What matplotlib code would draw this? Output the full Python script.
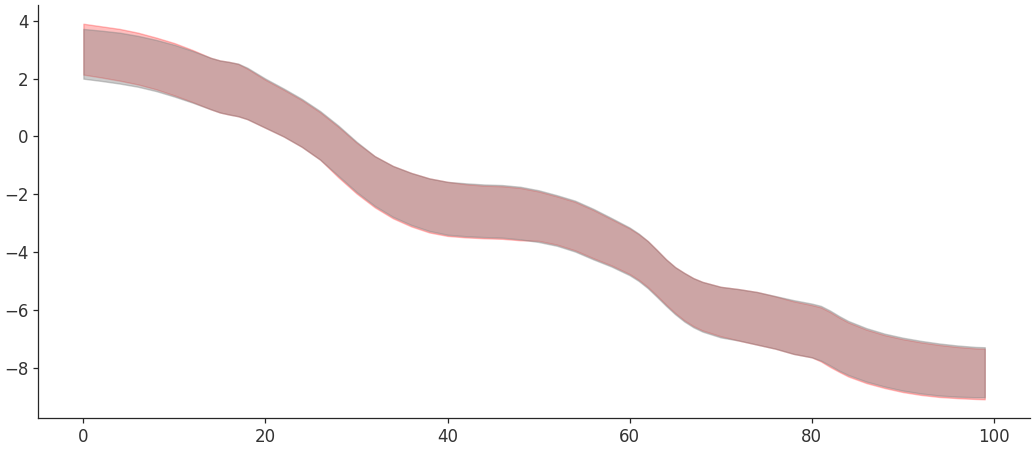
import numpy as np
import matplotlib
matplotlib.use('Agg')
import matplotlib.pyplot as plt
import seaborn as sns

# x positions of the read-off points
x = [0, 2, 4, 6, 8, 10, 12, 14, 15, 16, 17, 18, 20, 22, 24, 26, 28, 30, 32,
     34, 36, 38, 40, 42, 44, 46, 48, 50, 52, 54, 56, 58, 60, 61, 62, 63, 64,
     65, 66, 67, 68, 70, 72, 74, 76, 78, 80, 81, 82, 83, 84, 86, 88, 90, 92,
     94, 96, 98, 99]

# gray band
gray_upper = [3.72, 3.66, 3.59, 3.48, 3.34, 3.17, 2.96, 2.72, 2.63, 2.58, 2.52,
              2.38, 2.00, 1.66, 1.30, 0.88, 0.38, -0.18, -0.68, -1.02, -1.26,
              -1.45, -1.57, -1.62, -1.66, -1.68, -1.74, -1.86, -2.03, -2.22,
              -2.50, -2.82, -3.15, -3.36, -3.62, -3.93, -4.25, -4.52, -4.72,
              -4.90, -5.03, -5.20, -5.28, -5.38, -5.52, -5.66, -5.78, -5.86,
              -6.02, -6.21, -6.38, -6.63, -6.82, -6.96, -7.07, -7.16, -7.23,
              -7.28, -7.29]
gray_lower = [2.00, 1.92, 1.83, 1.72, 1.57, 1.38, 1.17, 0.94, 0.83, 0.76, 0.70,
              0.60, 0.30, 0.00, -0.36, -0.80, -1.36, -1.92, -2.40, -2.78, -3.06,
              -3.27, -3.40, -3.45, -3.48, -3.50, -3.56, -3.65, -3.78, -3.98,
              -4.25, -4.50, -4.80, -5.00, -5.25, -5.55, -5.86, -6.15, -6.40,
              -6.60, -6.75, -6.95, -7.06, -7.20, -7.34, -7.52, -7.64, -7.75,
              -7.92, -8.10, -8.25, -8.48, -8.65, -8.79, -8.89, -8.96, -9.00,
              -9.02, -9.02]

# red band
red_upper = [3.90, 3.81, 3.72, 3.59, 3.42, 3.23, 2.99, 2.72, 2.63, 2.58, 2.51,
             2.35, 1.96, 1.62, 1.26, 0.84, 0.34, -0.21, -0.68, -1.02, -1.26,
             -1.45, -1.57, -1.65, -1.70, -1.72, -1.78, -1.90, -2.07, -2.26,
             -2.54, -2.86, -3.18, -3.38, -3.62, -3.93, -4.25, -4.52, -4.72,
             -4.90, -5.03, -5.20, -5.28, -5.38, -5.53, -5.70, -5.83, -5.91,
             -6.07, -6.26, -6.43, -6.68, -6.87, -7.01, -7.12, -7.21, -7.28,
             -7.33, -7.34]
red_lower = [2.14, 2.04, 1.93, 1.80, 1.63, 1.42, 1.19, 0.94, 0.83, 0.76, 0.70,
             0.60, 0.30, 0.00, -0.36, -0.80, -1.41, -1.97, -2.45, -2.83, -3.11,
             -3.32, -3.44, -3.49, -3.52, -3.54, -3.59, -3.61, -3.74, -3.94,
             -4.21, -4.46, -4.76, -4.96, -5.21, -5.51, -5.82, -6.11, -6.36,
             -6.56, -6.71, -6.91, -7.06, -7.20, -7.34, -7.52, -7.64, -7.78,
             -7.97, -8.14, -8.30, -8.53, -8.70, -8.84, -8.94, -9.01, -9.05,
             -9.08, -9.09]

sns.set_theme(style='ticks')
plt.rcParams['font.family'] = ['DejaVu Sans']
plt.rcParams['axes.linewidth'] = 0.9

fig, ax = plt.subplots(figsize=(10.35, 4.5), dpi=100)
fig.subplots_adjust(left=0.037, right=0.995, top=0.989, bottom=0.071)

ax.fill_between(x, red_lower, red_upper, color='red', alpha=0.25)
ax.fill_between(x, gray_lower, gray_upper, color='gray', alpha=0.4)

ax.tick_params(labelsize=12, length=3.5, width=0.9, pad=3.5, labelcolor='.2')
sns.despine(ax=ax)

fig.savefig('out.png', dpi=100)
